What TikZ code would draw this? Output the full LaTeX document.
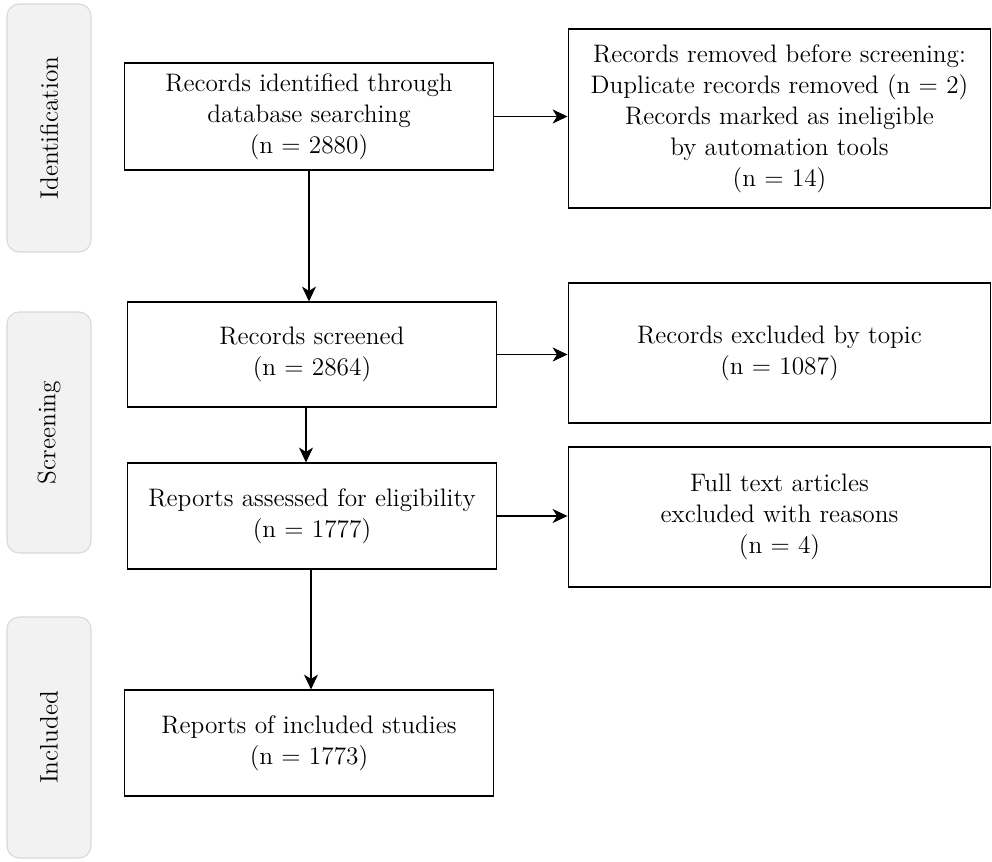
\documentclass[tikz,border=0pt]{standalone}
\usepackage[dvipsnames]{xcolor}
\usepackage{tikz}
\usetikzlibrary{arrows.meta}

\definecolor{bandfill}{HTML}{F2F2F2}
\definecolor{bandline}{HTML}{D9D9D9}

\begin{document}
\begin{tikzpicture}[x=0.02cm,y=-0.02cm,line width=0.6pt,
    every node/.style={font=\fontsize{14.4}{17.6}\selectfont,align=center},
    band/.style={draw=bandline,fill=bandfill,rounded corners=0.24cm,rotate=90,
      minimum height=1.68cm,inner sep=0pt},
    stagebox/.style={draw,minimum width=7.4cm,minimum height=2.12cm,inner sep=2pt},
    outbox/.style={draw,minimum width=8.46cm,minimum height=2.8cm,inner sep=2pt},
    flow/.style={-{Stealth[length=8.5pt,width=8pt,inset=2.5pt]}}]
  \useasboundingbox (0,0) rectangle (992,862);
  % phase bands
  \node[band,minimum width=4.96cm] (ident) at (49,128) {Identification};
  \node[band,minimum width=4.82cm] (screen) at (49,432.5) {Screening};
  \node[band,minimum width=4.82cm] (incl) at (49,737.5) {Included};
  % left column
  \node[stagebox,minimum height=2.14cm] (found) at (309,116.5)
    {Records identified through\\database searching\\(n = 2880)};
  \node[stagebox,minimum height=2.1cm] (screened) at (312,354.5)
    {Records screened\\(n = 2864)};
  \node[stagebox] (assessed) at (312,516)
    {Reports assessed for eligibility\\(n = 1777)};
  \node[stagebox] (included) at (309,743)
    {Reports of included studies\\(n = 1773)};
  % right column
  \node[outbox,minimum height=3.58cm] (removed) at (779.5,118.5)
    {Records removed before screening:\\Duplicate records removed (n = 2)\\Records marked as ineligible\\by automation tools\\(n = 14)};
  \node[outbox] (topic) at (779.5,353)
    {Records excluded by topic\\(n = 1087)};
  \node[outbox] (fulltext) at (779.5,517)
    {Full text articles\\excluded with reasons\\(n = 4)};
  % arrows
  \draw[flow] (found) -- (found |- screened.north);
  \draw[flow] (screened.south -| 306,0) -- (assessed.north -| 306,0);
  \draw[flow] (assessed.south -| 311,0) -- (included.north -| 311,0);
  \draw[flow] (found.east) -- (found.east -| removed.west);
  \draw[flow] (screened.east) -- (screened.east -| topic.west);
  \draw[flow] (assessed.east) -- (assessed.east -| fulltext.west);
\end{tikzpicture}
\end{document}
